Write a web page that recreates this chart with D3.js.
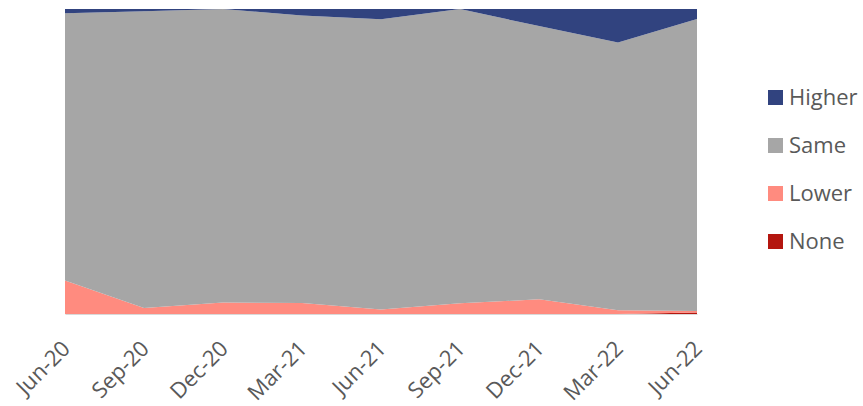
<!DOCTYPE html>
<html>
<head>
<meta charset="utf-8">
<script src="https://cdn.jsdelivr.net/npm/d3@7"></script>
<style>
  html, body { margin: 0; padding: 0; background: #fff; }
  svg { display: block; }
  text { font-family: "Open Sans", sans-serif; fill: #595959; }
</style>
</head>
<body>
<svg id="chart" width="863" height="406"></svg>
<script>
const categories = ["Jun-20","Sep-20","Dec-20","Mar-21","Jun-21","Sep-21","Dec-21","Mar-22","Jun-22"];
const higher = [1.4, 0.7, 0.0, 2.1, 3.4, 0.0, 5.6, 11.0, 3.3];
const lower  = [11.0, 2.0, 3.8, 3.6, 1.5, 3.5, 4.8, 1.2, 0.5];
const none   = [0, 0, 0, 0, 0, 0, 0, 0, 0.5];
const same   = categories.map((c, i) => 100 - higher[i] - lower[i] - none[i]);

const seriesNames = ["Higher", "Same", "Lower", "None"];
const colors = { Higher: "#31437F", Same: "#A6A6A6", Lower: "#FF8B7F", None: "#B4160F" };

const rows = categories.map((c, i) => ({ cat: c, Higher: higher[i], Same: same[i], Lower: lower[i], None: none[i] }));

const svg = d3.select("#chart");
const plotLeft = 65, plotRight = 697, plotTop = 9, plotBottom = 314;

const x = d3.scalePoint().domain(categories).range([plotLeft, plotRight]);
const y = d3.scaleLinear().domain([0, 100]).range([plotBottom, plotTop]);

const stack = d3.stack().keys(["None", "Lower", "Same", "Higher"]);
const layers = stack(rows);

const area = d3.area()
  .x(d => x(d.data.cat))
  .y0(d => y(d[0]))
  .y1(d => y(d[1]));

svg.append("g").selectAll("path")
  .data(layers)
  .join("path")
  .attr("d", area)
  .attr("fill", d => colors[d.key]);

// axis
const axis = d3.axisBottom(x).tickSize(0).tickPadding(0);
const gx = svg.append("g").attr("transform", `translate(0,${plotBottom})`).call(axis);
gx.select(".domain").attr("stroke", "#D9D9D9").attr("stroke-width", 1);
gx.selectAll("text")
  .attr("x", 0).attr("y", 0).attr("dy", 0)
  .attr("text-anchor", "end")
  .attr("transform", "translate(6,36) rotate(-45)")
  .style("font-size", "22px")
  .style("font-family", "'Open Sans', sans-serif")
  .attr("fill", "#595959");

// legend
const lg = svg.append("g");
seriesNames.forEach((name, i) => {
  const cy = 97.5 + i * 48;
  lg.append("rect")
    .attr("x", 768).attr("y", cy - 7.5)
    .attr("width", 15).attr("height", 15)
    .attr("fill", colors[name]);
  lg.append("text")
    .attr("x", 789).attr("y", cy)
    .attr("dy", "0.36em")
    .style("font-size", "22px")
    .text(name);
});
</script>
</body>
</html>
